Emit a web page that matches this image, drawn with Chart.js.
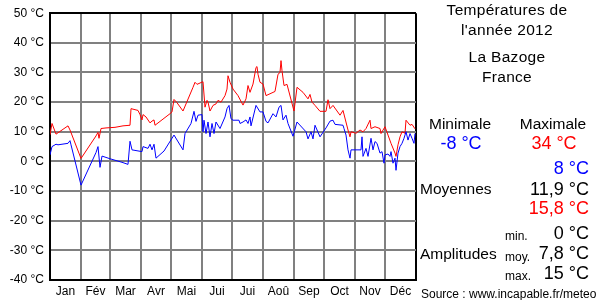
<!DOCTYPE html>
<html>
<head>
<meta charset="utf-8">
<script src="https://cdn.jsdelivr.net/npm/chart.js@4/dist/chart.umd.min.js"></script>
<style>
  html,body{margin:0;padding:0;background:#fff;}
  #wrap{position:relative;width:600px;height:300px;overflow:hidden;font-family:"Liberation Sans",Arial,sans-serif;color:#000;}
  canvas{position:absolute;left:0;top:0;}
  .t{position:absolute;white-space:nowrap;line-height:1;}
  .c{transform:translate(-50%,-50%);}
  .r{transform:translateY(-50%);}
  .l{transform:translateY(-50%);}
  .lab{font-size:15.5px;}
  .val{font-size:18px;}
  .sm{font-size:12px;}
</style>
</head>
<body>
<div id="wrap">
  <canvas id="chart" width="600" height="300"></canvas>
  <div class="t c lab" style="left:507px;top:10px;letter-spacing:0.3px">Températures de</div>
  <div class="t c lab" style="left:507px;top:30px;letter-spacing:0.3px">l'année 2012</div>
  <div class="t c lab" style="left:507px;top:57px;letter-spacing:0.3px">La Bazoge</div>
  <div class="t c lab" style="left:507px;top:77px;letter-spacing:0.3px">France</div>
  <div class="t c lab" style="left:460px;top:124px;">Minimale</div>
  <div class="t c lab" style="left:553px;top:124px;">Maximale</div>
  <div class="t c val" style="left:461px;top:143px;color:#0000ff">-8 °C</div>
  <div class="t c val" style="left:554px;top:143px;color:#ff0000">34 °C</div>
  <div class="t r val" style="right:11px;top:168px;color:#0000ff">8 °C</div>
  <div class="t l lab" style="left:420px;top:189px;">Moyennes</div>
  <div class="t r val" style="right:11px;top:189px;">11,9 °C</div>
  <div class="t r val" style="right:11px;top:208px;color:#ff0000">15,8 °C</div>
  <div class="t l sm" style="left:505px;top:236px;">min.</div>
  <div class="t r val" style="right:11px;top:233px;">0 °C</div>
  <div class="t l lab" style="left:420px;top:254px;">Amplitudes</div>
  <div class="t l sm" style="left:505px;top:257px;">moy.</div>
  <div class="t r val" style="right:11px;top:253px;">7,8 °C</div>
  <div class="t l sm" style="left:505px;top:276px;">max.</div>
  <div class="t r val" style="right:11px;top:273px;">15 °C</div>
  <div class="t l sm" style="left:421px;top:294px;">Source : www.incapable.fr/meteo</div>
</div>
<script>
// ---- data ----
const months = ['Jan','Fév','Mar','Avr','Mai','Jui','Jui','Aoû','Sep','Oct','Nov','Déc'];
const monthStarts = [0,31,60,91,121,152,182,213,244,274,305,335,366];
const yTickValues = [-40,-30,-20,-10,0,10,20,30,40,50];

const maxDays  = [0,2,6,18,20,31,46,48,49,51,56,65,73,80,81,88,90,92,93,96,100,102,104,105,120,122,124,127,133,143,145,147,153,155,157,158,160,163,166,168,171,175,177,178,180,183,188,193,196,198,200,203,206,207,208,210,213,216,225,228,230,231,232,234,237,244,247,253,258,260,262,265,270,276,278,280,283,290,293,298,300,301,306,310,313,316,320,321,325,330,331,335,338,341,345,346,348,350,352,355,356,360,362,365];
const maxTemps = [9,12.8,9.2,12,10.6,1,8.6,9.8,7.8,11.1,11.3,11.5,12,12.2,17.8,17.2,15.8,14,15.8,15,13,13.6,14,12.2,16.1,16.7,20.9,19.8,17,25,26.7,26,26.9,18.3,20.6,20,17,18.9,19.4,20.6,20,22.2,24.4,28.9,26.7,24.4,22.2,19,21.1,25.6,23.3,26.1,31.7,32,29.4,26.7,26.1,22.2,23.6,29.4,30,34,30.6,25.6,26,17,25,23.3,21.1,22.6,20,18.9,16.9,16.9,20.8,17.8,18.9,15.6,17.2,10.6,8.3,10,9.5,10.6,10,11.1,13.9,11.1,11.7,11.1,9.4,11.7,8.9,6.1,2.8,1.7,5.6,8.3,10,9.5,13.9,12.2,12.5,11];

const minDays  = [0,2,6,8,18,20,21,31,46,48,50,52,60,72,78,80,82,92,93,98,100,102,104,106,114,124,133,135,141,144,146,148,152,153,154,156,158,160,162,164,166,170,175,177,179,181,183,189,190,193,196,198,200,201,206,210,213,216,218,223,226,229,231,233,236,238,243,247,256,258,261,263,265,270,276,280,283,285,293,294,296,298,300,301,311,312,313,316,318,321,323,325,327,330,332,334,335,338,340,341,343,345,346,348,350,352,354,356,358,360,362,364,365];
const minTemps = [2.2,5,5.8,5.6,6.1,7,5.6,-8,3,5,-2,1.8,0.9,-0.3,-1,6.8,3.9,3.3,5,4.4,5.8,3.9,5.8,1.1,3.5,8.9,3.9,9.4,12.8,16.9,13.5,15.6,15.8,10,13.9,9.4,13.3,8.3,12.8,9.4,13.3,11.1,15,17.8,18.9,14.4,13.9,13.9,12.8,13.3,14,12.8,15,12,18.9,16.7,16.7,13.5,13,16.1,15,18.3,18.9,14,15.6,12.8,8.5,13.3,10,7.6,10,7.6,12.2,8.3,11.3,13.6,13.9,12.5,12.2,11.1,8.9,3.9,1.1,3.9,3.9,8.3,1.7,4.4,1.7,7.8,3.9,6.7,6.1,2.8,3.3,-0.6,2.2,2.5,1.7,3.3,-0.6,1.1,-3,2.8,5,6.1,7.8,10,7.2,9.4,7.8,6.1,9.4];

// ---- build ----
const toPts = (xs, ys) => xs.map((d, i) => ({x: d, y: ys[i]}));
const centers = monthStarts.slice(0, -1).map((s, i) => (s + monthStarts[i + 1]) / 2);
const labelFor = v => { const i = centers.indexOf(v); return i >= 0 ? months[i] : ''; };
const isBoundary = v => monthStarts.indexOf(v) >= 0;
const FONT = '"Liberation Sans", Arial, sans-serif';

new Chart(document.getElementById('chart'), {
  type: 'line',
  data: {
    datasets: [
      {label: 'Minimale', data: toPts(minDays, minTemps), borderColor: '#0000ff', borderWidth: 1, pointRadius: 0, tension: 0, fill: false},
      {label: 'Maximale', data: toPts(maxDays, maxTemps), borderColor: '#ff0000', borderWidth: 1, pointRadius: 0, tension: 0, fill: false}
    ]
  },
  options: {
    responsive: false,
    animation: false,
    devicePixelRatio: 1,
    layout: {padding: {top: 10, right: 184, bottom: 0, left: 0}},
    plugins: {legend: {display: false}, tooltip: {enabled: false}},
    scales: {
      x: {
        type: 'linear', min: 0, max: 366,
        afterBuildTicks: s => { s.ticks = monthStarts.concat(centers).sort((a, b) => a - b).map(v => ({value: v})); },
        afterFit: s => { s.height = 20; },
        ticks: {autoSkip: false, maxRotation: 0, minRotation: 0, padding: 4, color: '#000', font: {family: FONT, size: 12},
                callback: v => labelFor(v)},
        grid: {drawTicks: false, lineWidth: 2,
               color: c => (c.tick && isBoundary(c.tick.value)) ? ((c.tick.value === 366 || c.tick.value === 0) ? '#000' : '#808080') : 'rgba(0,0,0,0)'},
        border: {display: true, color: '#000', width: 2}
      },
      y: {
        min: -40, max: 50,
        afterBuildTicks: s => { s.ticks = yTickValues.map(v => ({value: v})); },
        afterFit: s => { s.width = 50; },
        ticks: {padding: 6, color: '#000', font: {family: FONT, size: 12}, callback: v => v + ' °C'},
        grid: {drawTicks: false, lineWidth: 2,
               color: c => (c.tick && (c.tick.value === 50 || c.tick.value === -40)) ? '#000' : '#808080'},
        border: {display: true, color: '#000', width: 2}
      }
    }
  }
});
</script>
</body>
</html>
